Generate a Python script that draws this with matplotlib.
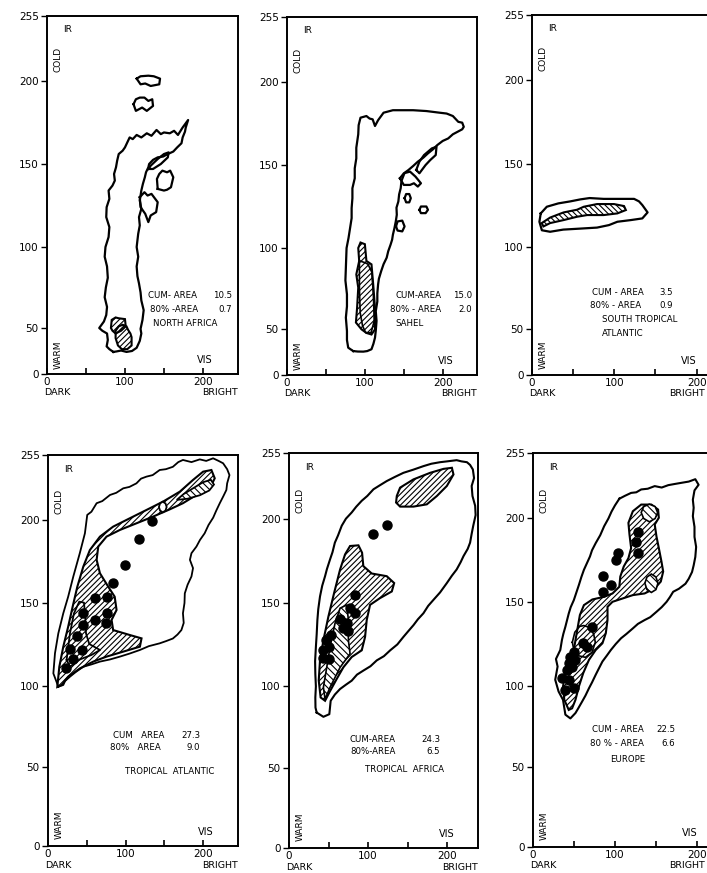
import numpy as np
import matplotlib
matplotlib.use("Agg")
import matplotlib.pyplot as plt

plt.rcParams['font.family'] = ['DejaVu Sans']
plt.rcParams['hatch.linewidth'] = 0.8

# ---------------- axis scales (tick values) ----------------
y_tick_vals = [0, 50, 100, 150, 200, 255]
y_pos_top = [0, 46, 127, 210, 293, 358]        # drawn spacing of the printed IR scale (top row)
y_pos_bottom = [0, 79, 160, 243, 326, 391]     # (bottom row)
x_major = [0, 100, 200]
x_minor = [50, 150]

# ---------------- NORTH AFRICA ----------------
na_outer = [(85,24),(80,27),(76.5,30),(78,37),(77,44),(71,47),(67,50),(73,54),(76,58),(77,63),(74,69),
            (75.5,75),(78,81),(77,88),(74,94),(75,100),(79,106),(80,112),(76,118),(76.5,124),(80,129),
            (79,134),(84,137),(87,140),(86,144),(88.5,148),(90,152),(92,156),(97,158),(100,160),(103,163),
            (106,166),(110,165),(115,167.5),(121,166),(128,168.5),(134,167),(140.5,170.5),(146,168),
            (150,169),(157.5,168.5),(163,170),(168,167.5),(174,172),(181,176.5),(178,172),(177,169.5),
            (174,166),(172.5,162.5),(167,160),(162,157.5),(155,156),(149,154.5),(142,154),(136,152.5),
            (131,150),(130,148),(127,145),(125.5,142),(123,138),(121,134),(120,131),(119,128),(121,123),
            (118,118),(119,113),(117,108),(116,104),(115,100),(117,94),(115,88),(116,82),(118,77.5),
            (120,72),(121,67),(124,61),(122.5,55),(120,49),(121,44),(119,36),(115,28.5),(109,25),
            (102,24),(95,25.5),(89,24.5)]
na_islands = [
    [(115,202),(120,204),(130,204.5),(137,204),(145,202),(144,198),(133,197),(126,198.5),(120,198)],
    [(111,186),(114,189),(119,190),(125,190),(130,188),(135,189),(136,185),(128,182),(122,184),(114,182)],
    [(130,147),(133,149),(142,153),(150,156),(156,157),(155,154),(146,150),(136,147)],
    [(142,135),(141,141),(144,144),(148,146),(154,145),(158,146),(162,142),(159,136),(154,134.5),(150,134)],
    [(119,130),(125,133),(129,131),(134,132),(142,127),(140,121),(133,119),(130,115),(126,120),(120,124)],
]
na_hatch = [
    [(83,55),(88,56.5),(92,56),(100,55.5),(101,51),(95,47),(88,44),(84,47),(82,50)],
    [(88,47),(92,51),(97,52),(102,51),(104,48),(107,44),(108.5,40),(108.5,31),(103,27),(96,27),(91,31),(88,39)],
]

# ---------------- SAHEL ----------------
sa_outer = [(85,26),(78.6,29.7),(77,38),(77,47.8),(75.6,57),(77,64),(77,71.4),(75,80),(75.6,87.9),(76.5,100),
            (79,106),(81,112),(83,118),(83,124),(84,130),(84,136),(87,142),(87,148),(89,154),(89,160.4),
            (91.5,168.5),(92,174),(94.4,178.5),(102,179.5),(106,178),(110,177.5),(113,173.5),(117,177),
            (124,181.5),(136,183),(150,183),(162,183),(179,182.5),(196,181.5),(205,181),(213,179.5),
            (220,176),(225,175.5),(227,173),(225,171.5),(219,170),(213,168.5),(207,166),(200,164.5),
            (193,162),(187.6,159.5),(181,157),(175,154.4),(168,152),(162,149.4),(156,147),(151,145.3),
            (147,140.4),(146,136),(144,132.3),(143,128),(140.6,124.3),(141,120),(139.7,116),(138,112),
            (136,108),(135,105),(133,102),(130,98),(128,94),(124,90),(121,85.8),(118,81),(117,77.6),
            (116,72),(116,67),(114,61),(115,55),(114,48),(113,40.6),(111,34),(108.5,28),(103,26),
            (98,25.4),(91,25.5)]
sa_islands = [
    [(166,147),(170,152),(176,156),(186,160),(192,161),(191,156),(184,153),(178,150),(170,145)],
    [(145,142),(150,145),(158,146),(165,143),(172,139),(168,137),(163,139),(158,138),(150,138)],
    [(151,130),(153,132.5),(157,132.5),(159,130),(157,127.5),(153,127.5)],
    [(170,123),(172,125),(179,125),(181,123),(178,121),(172,121)],
    [(140,113),(142,116),(148,116.5),(151,113),(148,110),(142,110.5)],
]
sa_hatch = [(94.4,103.3),(100,102.3),(102,92),(108.5,89.9),(110.7,77.6),(113,63),(113,49.6),(108.5,44),
            (102,45.7),(95.7,49.6),(88.5,54),(90,63),(91.5,75.5),(89,83.7),(92.7,92),(91.5,100)]
sa_inner = [(93,92),(100,91),(104,90),(109,85),(111,70),(112,55),(108,46),(101,46),(97,52),(94,60),(93,75)]

# ---------------- SOUTH TROPICAL ATLANTIC ----------------
st_outer = [(10.6,120.3),(18,124.3),(32,126.3),(46.5,127.5),(58.8,128.7),(70,129.5),(87,129),(105,129),
            (124,129),(130,127.5),(134,125.3),(140.4,120.9),(134,117.3),(120,116.3),(103.7,115.3),
            (93.5,113.3),(79,111.8),(58.8,111.2),(38,110.6),(22,109.3),(12,110.2),(9,115.3)]
st_hatch = [(11.8,114.5),(22,117.8),(38.4,120.9),(54.7,122.5),(62.9,124.3),(79,125.9),(99.6,125.9),
            (111.8,124.7),(114,122.3),(103.7,120.3),(87,119.3),(67,119.3),(54.7,118.3),(38.4,116.3),
            (22,114.5),(13.9,112.5)]

# ---------------- TROPICAL ATLANTIC ----------------
ta_outer = [(13.3,99.6),(6.9,107.6),(9,119.7),(13.3,131.7),(19.7,143.8),(26,153.8),(32.6,165.9),(41,180),
            (47.6,192),(50.6,204.3),(56,207),(62.7,214.2),(70,216),(80,221.2),(88,223),(97,226.8),
            (105,228),(114,231),(120,235),(127,236.7),(135,238),(144,242.3),(152,243),(161,245),(168,249),
            (174,250.8),(185,249),(195.7,251.3),(204,250),(212.9,252.2),(220,250),(225.8,248),(231,243),
            (234,238),(231,231),(230,225.4),(226,220),(221.5,214.2),(217,208),(213,202),(207,197),
            (202,192),(196,188),(191.4,184),(185,180),(183,176),(187,171),(185,166),(180,161),
            (176.4,155.8),(176,150),(174,143.8),(175,138),(172,133.7),(167,131),(161,128.6),(152,127),
            (144,125.7),(130,124),(118.5,121.7),(105,119.5),(92.7,117.7),(80,116),(67,114.7),(56,113),
            (45.5,111.6),(36,108.5),(28.3,105.6),(22,103),(19.7,100.6)]
ta_hatch = [(12,99.4),(14.6,111.6),(19.7,123.7),(26,135.7),(31.8,147.8),(37.8,159.8),(45.5,171.9),
            (54,181.9),(67,190),(84,196),(105.6,201.5),(127,208.5),(148.5,215.6),(170,224),(187,233.9),
            (200,240.9),(210.7,242.3),(215,235.3),(208.6,226.8),(191.4,221.2),(174,214.2),(157,209),
            (135.6,202.9),(114,198),(92.7,194),(75.5,190),(64.8,184),(62.7,176),(67,167.9),(77.7,159.8),
            (86,153.8),(88.4,145.8),(82,139.8),(84,133.7),(105.6,130.7),(120.6,128.7),(118.5,123.7),
            (97,120.7),(75.5,117.7),(58.4,114.7),(41.2,110.6),(26,105.6),(17.6,100.6)]
ta_inner = [(24,115.7),(28.3,131.7),(33.5,143.8),(40.3,150.8),(46.4,150.2),(48,141.8),(49,131.7),
            (53.2,125.3),(67,121.7),(56,118.7),(41.2,116),(28.3,111.6)]
ta_tip = [(166,217),(175,222),(185,226),(200,232),(210,234),(214,230),(208,225),(196,221),(180,218)]
ta_circle = [(143,211),(144.5,214),(148,215.5),(151.5,214),(153,211),(151.5,208),(148,206.5),(144.5,208)]
ta_dots_x = [133.5,117.6,99,84,75.5,60.5,75.5,74.7,60.5,45.5,45.5,37.8,43.3,28.3,32.6,23]
ta_dots_y = [199.6,188.6,172.9,161.8,153.8,152.8,143.8,138.2,139.8,144.2,136.7,130.1,121.7,122.5,116,110.6]

# ---------------- TROPICAL AFRICA ----------------
tf_outer = [(35,84),(43.5,81.4),(51,83),(52.7,91.2),(58,95),(64.6,98.4),(72,101),(79.3,103.4),(86,107),
            (94,109.4),(103,112),(111,115.5),(120,118),(128,121.5),(137,125),(144.7,129.5),(151,133),
            (157.4,136.5),(163,140),(170,143.6),(176,148),(182.7,151.6),(191,156),(199.6,161.6),(206,166),
            (212,169.7),(217,174),(220.7,177.7),(226,182),(229,185.7),(231,191),(233,195.8),(236,203),
            (235.4,210.8),(232,219),(231,227.4),(234,234),(232.5,241.2),(229,245),(225,247.3),(218,248),
            (212,249),(200,248),(191,247.3),(180,246),(170,244),(157,241),(144.7,238.4),(134,235),
            (123.6,231.5),(115,228),(106.8,224.6),(99,219),(92,215),(85,210),(79.3,205.2),(72,200),
            (66.7,195.8),(62,190),(58,185.7),(55,180),(51.9,175.7),(48,170),(45.6,165.7),(42,160),
            (39.2,153.6),(37,146),(35.9,139.6),(35,131),(34,123.5),(33,115),(33.3,107.4),(34,100),
            (33.3,93.2),(33.5,87)]
tf_hatch_top = [(136.3,219),(140.5,226),(157.4,232.9),(178.5,238.4),(195.4,241.7),(206,242.6),(208,237),
                (199.6,227.4),(187,219),(174.3,212),(157.4,210.1),(140.5,210.1),(135.4,213.5)]
tf_hatch_mid = [(77.2,183.7),(87.8,184.1),(92.4,179.7),(94,171.7),(104.6,167.3),(123.6,165.7),(133,161.6),
                (130,156.6),(115,152.6),(102.5,148.6),(98.3,139.6),(96.2,129.5),(92,121.5),(79.3,117.5),
                (68.8,111.4),(60.3,104.4),(51,96.3),(45.6,91.2),(40,93.2),(37.6,103.5),(39.2,115.5),
                (43.5,127.5),(49.8,141.6),(57,155.6),(64.6,169.7),(70.9,178.7)]
tf_inner = [(64.6,146.6),(73,148.6),(75.1,139.6),(75.1,127.5),(77.2,119.5),(64.6,111.3),(51.9,99.4),
            (45.6,92.2),(43.5,99.4),(47.7,111.3),(51.9,123.5),(58.2,137.6)]
tf_dots_x = [106,123.6,83.5,77.2,83.5,64.6,73,68.8,75,53,47,50,43.5,50,42.6]
tf_dots_y = [190.8,196.2,154.6,146.6,144,140,138,134.6,133,130.5,127.5,123.5,121.5,116.5,117.1]

# ---------------- EUROPE ----------------
eu_outer = [(105.3,216.6),(112,219),(119.7,221.5),(126,222),(132,224.4),(140,225),(148.5,227.2),(157,226),
            (165,228),(173,229),(181.4,230),(190,231),(198,233),(202,228.3),(197,223.6),(195,215.8),
            (196,209),(195,202),(197,195),(197,189),(199,183),(198,177),(196,172),(194,168),(190,164),
            (186,161),(178,158),(171,156.2),(167,153),(163,150.2),(157,147),(150.6,144.2),(143,141),
            (136.2,139.3),(128,137),(121.8,134.3),(114,131),(107.4,128.4),(101,125),(95,121.4),(90,118),
            (84.7,114.5),(80,110),(76.5,106.6),(72,102),(68.3,98.5),(64,94),(60,90.4),(55,86),
            (51.8,83.3),(45.6,80),(39.5,82.3),(36.6,91.4),(31.2,96.5),(27.1,103.6),(30,111.5),(28,116),
            (33.3,121.4),(35.3,127.4),(37,131),(39.5,135.3),(43.6,143.2),(46,147),(49.8,151.2),(56,160.3),
            (59,165),(62.1,169.3),(69.5,177.3),(72,181),(76.5,185.3),(82,190),(86.8,195.4),(92,200),
            (95.8,205.8),(100,211)]
eu_hatch = [(43.6,85.2),(38.2,91.4),(36.6,99.6),(39.5,107.6),(44.8,115.5),(49.8,121.4),(52.2,128.4),
            (54.7,135.3),(57.2,142.3),(62.1,148.2),(72.4,151.6),(86.8,153.2),(97,155.2),(105.3,159.2),
            (106.5,165.3),(110.7,171.3),(116.4,176.3),(119.7,182.3),(117.7,190.4),(116.4,197.4),
            (121.8,206.1),(132,211.7),(144.4,211.7),(152.6,207.5),(153.5,200.6),(148.5,196.4),
            (150.6,189.3),(153.5,182.3),(156.7,174.3),(158.8,168.3),(155.9,162.3),(148.5,158.2),
            (136.2,155.2),(121.8,154.2),(109.4,152.2),(97,150.2),(90.9,147.2),(90.9,139.3),(88.8,131.4),
            (84.7,125.4),(76.5,121.4),(68.3,115.5),(61.3,107.6),(56,99.6),(51.8,91.4),(47.7,86.2)]
eu_circle_top = [(132,205),(135,210),(142,212),(149,210),(152,205),(149,200),(142,198),(135,200)]
eu_circle_right = [(136.5,161.3),(139,165),(144.4,166.8),(150,165),(152.4,161.3),(150,157.5),(144.4,155.8),(139,157.5)]
eu_inner = [(48,126),(51,132),(57,135.5),(62,136),(68,135),(74,131),(76,126),(72,120),(64,117),(55,118),(50,121)]
eu_dots_x = [127.9,125.9,127.9,103.3,101.2,86,95,86,72.4,61.3,66.2,49.8,45.6,51.8,43.6,47.7,41.5,35.3,43.6,39.5,49.8]
eu_dots_y = [191.9,185.8,179.4,179.4,174.9,165.7,160.2,156.2,135.3,125.4,123.4,120.4,117.4,115.5,113.5,111.5,109.5,104.6,103.6,97.5,98.5]

# ---------------- text ----------------
panel_text = [
    [("CUM- AREA", "10.5"), ("80% -AREA", "0.7"), ("NORTH AFRICA", None)],
    [("CUM-AREA", "15.0"), ("80% - AREA", "2.0"), ("SAHEL", None)],
    [("CUM - AREA", "3.5"), ("80% - AREA", "0.9"), ("SOUTH TROPICAL", None), ("ATLANTIC", None)],
    [("CUM   AREA", "27.3"), ("80%   AREA", "9.0"), ("TROPICAL  ATLANTIC", None)],
    [("CUM-AREA", "24.3"), ("80%-AREA", "6.5"), ("TROPICAL  AFRICA", None)],
    [("CUM - AREA", "22.5"), ("80 % - AREA", "6.6"), ("EUROPE", None)],
]

# ================= drawing =================
W, H = 707, 873
fig = plt.figure(figsize=(W / 100, H / 100), dpi=100)
fig.patch.set_facecolor('white')


def frame(l, r, t, b):
    return [l / W, 1 - b / H, (r - l) / W, (b - t) / H]


# layout: frame pixel box, x max, row; label positions (pixels)
layout = [
    dict(box=(47, 238, 16, 374), xmax=245, row='top', vis=205, bright=238,
         txt=[(148, 232, 295), (150, 232, 309), (153, None, 324)]),
    dict(box=(287, 477, 17, 375), xmax=244, row='top', vis=446, bright=477,
         txt=[(395, 472, 296), (390, 472, 309), (395, None, 323)]),
    dict(box=(532, 723, 15, 375), xmax=232, row='top', vis=689, bright=705,
         txt=[(592, 673, 293), (590, 673, 305), (602, None, 320), (602, None, 333)]),
    dict(box=(48, 238, 455, 846), xmax=245, row='bottom', vis=206, bright=238,
         txt=[(113, 200, 735), (110, 200, 748), (125, None, 771)]),
    dict(box=(289, 478, 453, 848), xmax=239, row='bottom', vis=447, bright=478,
         txt=[(350, 440, 739), (350, 440, 751), (365, None, 770)]),
    dict(box=(533, 724, 453, 847), xmax=233, row='bottom', vis=690, bright=705,
         txt=[(592, 675, 730), (590, 675, 743), (610, None, 759)]),
]


def outline(ax, pts, lw=1.6):
    p = np.array(pts + [pts[0]])
    ax.plot(p[:, 0], p[:, 1], color='black', lw=lw, solid_joinstyle='round')


def hatched(ax, pts, hatch='//////', face='none', lw=1.5):
    p = np.array(pts)
    ax.fill(p[:, 0], p[:, 1], facecolor=face, edgecolor='black', hatch=hatch, lw=lw)


axes = []
for i, L in enumerate(layout):
    l, r, t, b = L['box']
    ax = fig.add_axes(frame(l, r, t, b))
    axes.append(ax)
    pos = y_pos_top if L['row'] == 'top' else y_pos_bottom
    fwd = (lambda v, pos=pos: np.interp(v, y_tick_vals, pos))
    inv = (lambda p, pos=pos: np.interp(p, pos, y_tick_vals))
    ax.set_yscale('function', functions=(fwd, inv))
    ax.set_xlim(0, L['xmax'])
    ax.set_ylim(0, 255)
    ax.set_yticks(y_tick_vals)
    ax.set_yticklabels([str(v) for v in y_tick_vals])
    ax.set_xticks(x_major)
    ax.set_xticklabels([str(v) for v in x_major])
    ax.set_xticks(x_minor, minor=True)
    ax.yaxis.set_minor_locator(matplotlib.ticker.NullLocator())
    ax.tick_params(axis='x', which='both', direction='in', length=4, width=1.2, pad=2.5, labelsize=7.5)
    ax.tick_params(axis='y', which='both', direction='out', length=4, width=1.0, pad=2, labelsize=7.5)
    for s in ax.spines.values():
        s.set_linewidth(1.4)
    ax.text(0.085, 0.975, 'IR', transform=ax.transAxes, fontsize=6.5, va='top', ha='left')
    ax.text(0.035, 0.88, 'COLD', transform=ax.transAxes, fontsize=6.5, va='center', ha='left', rotation=90)
    ax.text(0.035, 0.055, 'WARM', transform=ax.transAxes, fontsize=6.5, va='center', ha='left', rotation=90)
    fig.text(L['vis'] / W, 1 - (b - 14) / H, 'VIS', fontsize=7, va='center', ha='center')
    fig.text((l - 3) / W, 1 - (b + 19) / H, 'DARK', fontsize=6.8, ha='left', va='center')
    fig.text(L['bright'] / W, 1 - (b + 19) / H, 'BRIGHT', fontsize=6.8, ha='right', va='center')
    for (lab, val), (xl, xr, yy) in zip(panel_text[i], L['txt']):
        fig.text(xl / W, 1 - yy / H, lab, fontsize=6.2, ha='left', va='center')
        if val is not None:
            fig.text(xr / W, 1 - yy / H, val, fontsize=6.2, ha='right', va='center')

# North Africa
ax = axes[0]
outline(ax, na_outer)
for isl in na_islands:
    outline(ax, isl)
for h in na_hatch:
    hatched(ax, h)

# Sahel
ax = axes[1]
outline(ax, sa_outer)
for isl in sa_islands:
    outline(ax, isl)
hatched(ax, sa_hatch)
outline(ax, sa_inner, lw=1.2)

# South tropical Atlantic
ax = axes[2]
outline(ax, st_outer)
hatched(ax, st_hatch, hatch='\\\\\\\\\\\\')

# Tropical Atlantic
ax = axes[3]
outline(ax, ta_outer, lw=1.3)
hatched(ax, ta_hatch)
outline(ax, ta_inner, lw=1.3)
hatched(ax, ta_tip, hatch='\\\\\\\\\\', face='white', lw=1.3)
hatched(ax, ta_circle, hatch=None, face='white', lw=1.3)
ax.plot(ta_dots_x, ta_dots_y, 'o', color='black', ms=6.5)

# Tropical Africa
ax = axes[4]
outline(ax, tf_outer, lw=1.5)
hatched(ax, tf_hatch_top)
hatched(ax, tf_hatch_mid)
hatched(ax, tf_inner, hatch='\\\\\\\\\\', face='white', lw=1.2)
ax.plot(tf_dots_x, tf_dots_y, 'o', color='black', ms=6.5)

# Europe
ax = axes[5]
outline(ax, eu_outer, lw=1.5)
hatched(ax, eu_hatch)
outline(ax, eu_inner, lw=1.2)
hatched(ax, eu_circle_top, hatch='\\\\\\\\', face='white', lw=1.2)
hatched(ax, eu_circle_right, hatch='\\\\\\\\', face='white', lw=1.2)
ax.plot(eu_dots_x, eu_dots_y, 'o', color='black', ms=6.5)

fig.savefig('out.png', dpi=100, facecolor='white')
